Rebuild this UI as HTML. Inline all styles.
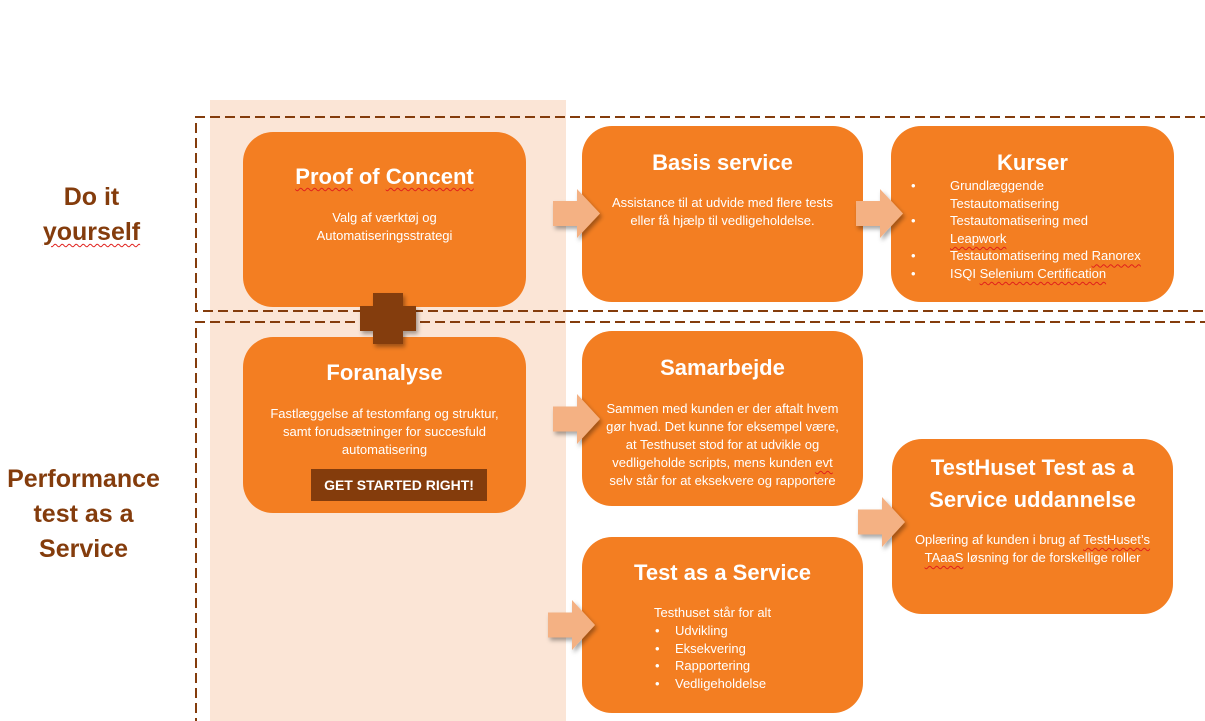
<!DOCTYPE html>
<html><head><meta charset="utf-8">
<style>
*{margin:0;padding:0;box-sizing:border-box}
body{width:1205px;height:721px;overflow:hidden;background:#fff;position:relative;font-family:"Liberation Sans",Arial,sans-serif}
.abs{position:absolute}
.box{position:absolute;background:#F37E22;border-radius:30px}
.t{position:absolute;color:#fff;font-weight:bold;font-size:22px;line-height:26px;text-align:center;white-space:nowrap}
.b{position:absolute;color:#fff;font-size:13px;line-height:18px;text-align:center;white-space:nowrap}
.sp{text-decoration:underline wavy #e0201c;text-decoration-thickness:1px;text-underline-offset:3px}
.lbl{position:absolute;color:#843C0C;font-weight:bold;font-size:25px;line-height:35px;text-align:center;white-space:nowrap}
.li{position:absolute;color:#fff;font-size:13px;line-height:17.6px;white-space:nowrap}
</style></head><body>
<div class="abs" style="left:210px;top:100px;width:356px;height:621px;background:#FBE5D6"></div>

<svg class="abs" style="left:0;top:0" width="1205" height="721">
  <g stroke="#843C0C" stroke-width="2" fill="none" stroke-dasharray="10 5">
    <path d="M1210 117 H196 V311 H1210"/>
    <path d="M1210 322 H196 V725"/>
  </g>
</svg>

<!-- boxes -->
<div class="box" style="left:243px;top:132px;width:283px;height:175px"></div>
<div class="box" style="left:243px;top:337px;width:283px;height:176px"></div>
<div class="box" style="left:582px;top:126px;width:281px;height:176px"></div>
<div class="box" style="left:891px;top:126px;width:283px;height:176px"></div>
<div class="box" style="left:582px;top:331px;width:281px;height:175px"></div>
<div class="box" style="left:582px;top:537px;width:281px;height:176px"></div>
<div class="box" style="left:892px;top:439px;width:281px;height:175px"></div>

<!-- Proof of Concent -->
<div class="t" style="left:243px;width:283px;top:164px"><span class="sp">Proof</span> of <span class="sp">Concent</span></div>
<div class="b" style="left:243px;width:283px;top:209px">Valg af værktøj og<br>Automatiseringsstrategi</div>

<!-- Foranalyse -->
<div class="t" style="left:243px;width:283px;top:360px">Foranalyse</div>
<div class="b" style="left:243px;width:283px;top:405px">Fastlæggelse af testomfang og struktur,<br>samt forudsætninger for succesfuld<br>automatisering</div>
<div class="abs" style="left:311px;top:469px;width:176px;height:32px;background:#843C0C;color:#fff;font-weight:bold;font-size:14px;line-height:32px;text-align:center;white-space:nowrap">GET STARTED RIGHT!</div>

<!-- Basis service -->
<div class="t" style="left:582px;width:281px;top:150px">Basis service</div>
<div class="b" style="left:582px;width:281px;top:194px">Assistance til at udvide med flere tests<br>eller få hjælp til vedligeholdelse.</div>

<!-- Kurser -->
<div class="t" style="left:891px;width:283px;top:150px">Kurser</div>
<div class="li" style="left:911px;top:177px;line-height:17.6px">•<br><br>•<br><br>•<br>•</div>
<div class="li" style="left:950px;top:177px">Grundlæggende<br>Testautomatisering<br>Testautomatisering med<br><span class="sp">Leapwork</span><br>Testautomatisering med <span class="sp">Ranorex</span><br>ISQI <span class="sp">Selenium Certification</span></div>

<!-- Samarbejde -->
<div class="t" style="left:582px;width:281px;top:355px">Samarbejde</div>
<div class="b" style="left:582px;width:281px;top:400px">Sammen med kunden er der aftalt hvem<br>gør hvad. Det kunne for eksempel være,<br>at Testhuset stod for at udvikle og<br>vedligeholde scripts, mens kunden <span class="sp">evt</span><br>selv står for at eksekvere og rapportere</div>

<!-- Test as a Service -->
<div class="t" style="left:582px;width:281px;top:560px">Test as a Service</div>
<div class="li" style="left:654px;top:604px;line-height:18px">Testhuset står for alt</div>
<div class="li" style="left:655px;top:622px;line-height:17.7px">•<br>•<br>•<br>•</div>
<div class="li" style="left:675px;top:622px;line-height:17.7px">Udvikling<br>Eksekvering<br>Rapportering<br>Vedligeholdelse</div>

<!-- TestHuset -->
<div class="t" style="left:892px;width:281px;top:452px;line-height:32px">TestHuset Test as a<br>Service uddannelse</div>
<div class="b" style="left:892px;width:281px;top:531px">Oplæring af kunden i brug af <span class="sp">TestHuset’s</span><br><span class="sp">TAaaS</span> løsning for de forskellige roller</div>

<!-- arrows & cross -->
<svg class="abs" style="left:0;top:0" width="1205" height="721">
  <defs>
    <filter id="sh" x="-30%" y="-30%" width="160%" height="160%">
      <feDropShadow dx="2" dy="3" stdDeviation="2" flood-color="#000" flood-opacity="0.35"/>
    </filter>
  </defs>
  <g fill="#F4B183" filter="url(#sh)">
    <polygon points="553,201 577,201 577,189 600,213.5 577,238 577,226 553,226"/>
    <polygon points="856,201 880,201 880,189 903,213.5 880,238 880,226 856,226"/>
    <polygon points="553,406.5 577,406.5 577,394 600,419 577,444 577,431.5 553,431.5"/>
    <polygon points="548,612.5 572,612.5 572,600 595,625 572,650 572,637.5 548,637.5"/>
    <polygon points="858,509.5 882,509.5 882,497 905,522 882,547 882,534.5 858,534.5"/>
  </g>
  <polygon fill="#843C0C" filter="url(#sh)" points="373,293 403,293 403,306 416,306 416,331 403,331 403,344 373,344 373,331 360,331 360,306 373,306"/>
</svg>

<!-- left labels -->
<div class="lbl" style="left:0;width:183px;top:180px">Do it<br><span class="sp">yourself</span></div>
<div class="lbl" style="left:0;width:167px;top:462px">Performance<br>test as a<br>Service</div>
</body></html>
